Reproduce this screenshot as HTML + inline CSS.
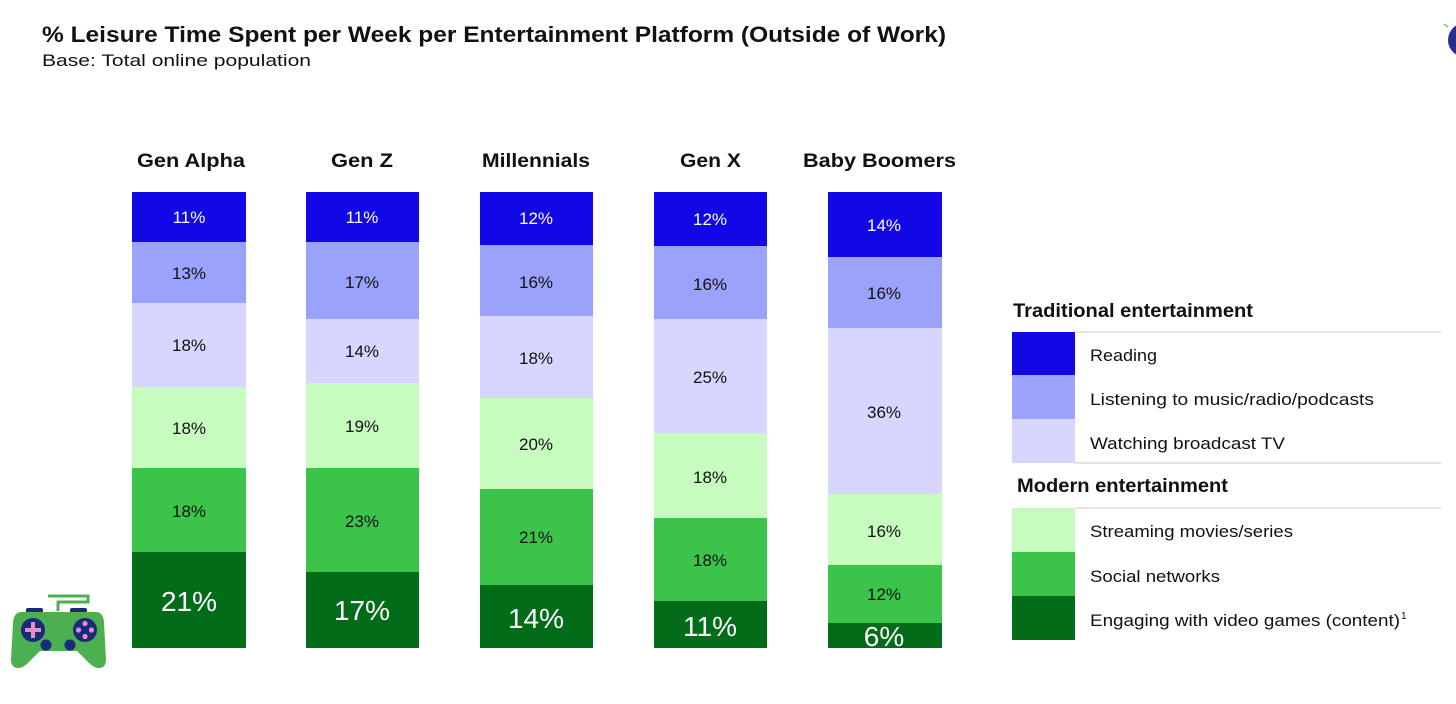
<!DOCTYPE html>
<html><head><meta charset="utf-8"><style>
html,body{margin:0;padding:0;background:#fff;}
svg{display:block;}
text{font-family:"Liberation Sans",sans-serif;}
</style></head><body>
<svg width="1456" height="704" viewBox="0 0 1456 704" xmlns="http://www.w3.org/2000/svg">
<rect width="1456" height="704" fill="#fff"/>
<!-- title -->
<text x="42" y="42" font-size="22" font-weight="bold" fill="#111" textLength="904" lengthAdjust="spacingAndGlyphs">% Leisure Time Spent per Week per Entertainment Platform (Outside of Work)</text>
<text x="42" y="66" font-size="17" fill="#111" textLength="269" lengthAdjust="spacingAndGlyphs">Base: Total online population</text>
<!-- top right circle -->
<circle cx="1465" cy="40" r="17" fill="#2b2d8c"/>
<line x1="1444" y1="24" x2="1448" y2="27" stroke="#6fcf7a" stroke-width="1.5"/>

<!-- headers -->
<g font-size="19.5" font-weight="bold" fill="#111">
<text x="137" y="167" textLength="108" lengthAdjust="spacingAndGlyphs">Gen Alpha</text>
<text x="331" y="167" textLength="62" lengthAdjust="spacingAndGlyphs">Gen Z</text>
<text x="482" y="167" textLength="108" lengthAdjust="spacingAndGlyphs">Millennials</text>
<text x="680" y="167" textLength="61" lengthAdjust="spacingAndGlyphs">Gen X</text>
<text x="803" y="167" textLength="153" lengthAdjust="spacingAndGlyphs">Baby Boomers</text>
</g>

<!-- Gen Alpha -->
<g>
<rect x="132" y="192" width="114" height="50" fill="#1207e6"/>
<rect x="132" y="242" width="114" height="61" fill="#9ba2fb"/>
<rect x="132" y="303" width="114" height="84" fill="#d6d6fe"/>
<rect x="132" y="387" width="114" height="81" fill="#c6fdbe"/>
<rect x="132" y="468" width="114" height="84" fill="#3bc449"/>
<rect x="132" y="552" width="114" height="96" fill="#036c19"/>
</g>
<!-- Gen Z -->
<g>
<rect x="306" y="192" width="113" height="50" fill="#1207e6"/>
<rect x="306" y="242" width="113" height="77" fill="#9ba2fb"/>
<rect x="306" y="319" width="113" height="64" fill="#d6d6fe"/>
<rect x="306" y="383" width="113" height="85" fill="#c6fdbe"/>
<rect x="306" y="468" width="113" height="104" fill="#3bc449"/>
<rect x="306" y="572" width="113" height="76" fill="#036c19"/>
</g>
<!-- Millennials -->
<g>
<rect x="480" y="192" width="113" height="53" fill="#1207e6"/>
<rect x="480" y="245" width="113" height="71" fill="#9ba2fb"/>
<rect x="480" y="316" width="113" height="82" fill="#d6d6fe"/>
<rect x="480" y="398" width="113" height="91" fill="#c6fdbe"/>
<rect x="480" y="489" width="113" height="96" fill="#3bc449"/>
<rect x="480" y="585" width="113" height="63" fill="#036c19"/>
</g>
<!-- Gen X -->
<g>
<rect x="654" y="192" width="113" height="54" fill="#1207e6"/>
<rect x="654" y="246" width="113" height="73" fill="#9ba2fb"/>
<rect x="654" y="319" width="113" height="114" fill="#d6d6fe"/>
<rect x="654" y="433" width="113" height="85" fill="#c6fdbe"/>
<rect x="654" y="518" width="113" height="83" fill="#3bc449"/>
<rect x="654" y="601" width="113" height="47" fill="#036c19"/>
</g>
<!-- Baby Boomers -->
<g>
<rect x="828" y="192" width="114" height="65" fill="#1207e6"/>
<rect x="828" y="257" width="114" height="71" fill="#9ba2fb"/>
<rect x="828" y="328" width="114" height="166" fill="#d6d6fe"/>
<rect x="828" y="494" width="114" height="71" fill="#c6fdbe"/>
<rect x="828" y="565" width="114" height="58" fill="#3bc449"/>
<rect x="828" y="623" width="114" height="25" fill="#036c19"/>
</g>

<!-- labels -->
<g font-size="17" text-anchor="middle" fill="#111">
<text x="189" y="223" fill="#fff">11%</text>
<text x="189" y="279">13%</text>
<text x="189" y="351">18%</text>
<text x="189" y="434">18%</text>
<text x="189" y="517">18%</text>

<text x="362" y="223" fill="#fff">11%</text>
<text x="362" y="288">17%</text>
<text x="362" y="357">14%</text>
<text x="362" y="432">19%</text>
<text x="362" y="527">23%</text>

<text x="536" y="224" fill="#fff">12%</text>
<text x="536" y="288">16%</text>
<text x="536" y="364">18%</text>
<text x="536" y="450">20%</text>
<text x="536" y="543">21%</text>

<text x="710" y="225" fill="#fff">12%</text>
<text x="710" y="290">16%</text>
<text x="710" y="383">25%</text>
<text x="710" y="483">18%</text>
<text x="710" y="566">18%</text>

<text x="884" y="231" fill="#fff">14%</text>
<text x="884" y="299">16%</text>
<text x="884" y="418">36%</text>
<text x="884" y="537">16%</text>
<text x="884" y="600">12%</text>
</g>
<g font-size="28" text-anchor="middle" fill="#fff">
<text x="189" y="611">21%</text>
<text x="362" y="620">17%</text>
<text x="536" y="628">14%</text>
<text x="710" y="636">11%</text>
<text x="884" y="646">6%</text>
</g>

<!-- legend -->
<text x="1013" y="317" font-size="19.5" font-weight="bold" fill="#111" textLength="240" lengthAdjust="spacingAndGlyphs">Traditional entertainment</text>
<line x1="1075" y1="332" x2="1441" y2="332" stroke="#dcdcdc" stroke-width="1.5"/>
<rect x="1012" y="332" width="63" height="43" fill="#1207e6"/>
<rect x="1012" y="375" width="63" height="44" fill="#9ba2fb"/>
<rect x="1012" y="419" width="63" height="44" fill="#d6d6fe"/>
<line x1="1075" y1="463" x2="1441" y2="463" stroke="#dcdcdc" stroke-width="1.5"/>
<text x="1017" y="492" font-size="19.5" font-weight="bold" fill="#111" textLength="211" lengthAdjust="spacingAndGlyphs">Modern entertainment</text>
<line x1="1075" y1="508" x2="1441" y2="508" stroke="#dcdcdc" stroke-width="1.5"/>
<rect x="1012" y="508" width="63" height="44" fill="#c6fdbe"/>
<rect x="1012" y="552" width="63" height="44" fill="#3bc449"/>
<rect x="1012" y="596" width="63" height="44" fill="#036c19"/>
<g font-size="17" fill="#111">
<text x="1090" y="361" textLength="67" lengthAdjust="spacingAndGlyphs">Reading</text>
<text x="1090" y="405" textLength="284" lengthAdjust="spacingAndGlyphs">Listening to music/radio/podcasts</text>
<text x="1090" y="449" textLength="195" lengthAdjust="spacingAndGlyphs">Watching broadcast TV</text>
<text x="1090" y="537" textLength="203" lengthAdjust="spacingAndGlyphs">Streaming movies/series</text>
<text x="1090" y="582" textLength="130" lengthAdjust="spacingAndGlyphs">Social networks</text>
<text x="1090" y="626" textLength="310" lengthAdjust="spacingAndGlyphs">Engaging with video games (content)</text>
<text x="1401" y="619" font-size="10">1</text>
</g>

<!-- controller icon -->
<g>
<path d="M58,611 V602 H88 V596 H48" fill="none" stroke="#4caf50" stroke-width="3"/>
<rect x="26" y="608" width="17" height="6" rx="2" fill="#1a2a7a"/>
<rect x="70" y="608" width="17" height="6" rx="2" fill="#1a2a7a"/>
<path d="M22,612 H96 Q103,612 104,622 L106,659 Q106,668 99,668 Q94,668 89,663 L77,651 H40 L28,663 Q23,668 18,668 Q11,668 11,659 L13,622 Q14,612 22,612 Z" fill="#4caf50"/>
<circle cx="33" cy="630" r="12" fill="#1a2a7a"/>
<rect x="31" y="622" width="4" height="16" fill="#e48ec4"/>
<rect x="25" y="628" width="16" height="4" fill="#e48ec4"/>
<circle cx="85" cy="630" r="12" fill="#1a2a7a"/>
<circle cx="85" cy="623.5" r="2.6" fill="#e48ec4"/>
<circle cx="85" cy="636.5" r="2.6" fill="#e48ec4"/>
<circle cx="78.5" cy="630" r="2.6" fill="#e48ec4"/>
<circle cx="91.5" cy="630" r="2.6" fill="#e48ec4"/>
<circle cx="46" cy="645" r="5.5" fill="#1a2a7a"/>
<circle cx="70" cy="645" r="5.5" fill="#1a2a7a"/>
</g>
</svg>
</body></html>
